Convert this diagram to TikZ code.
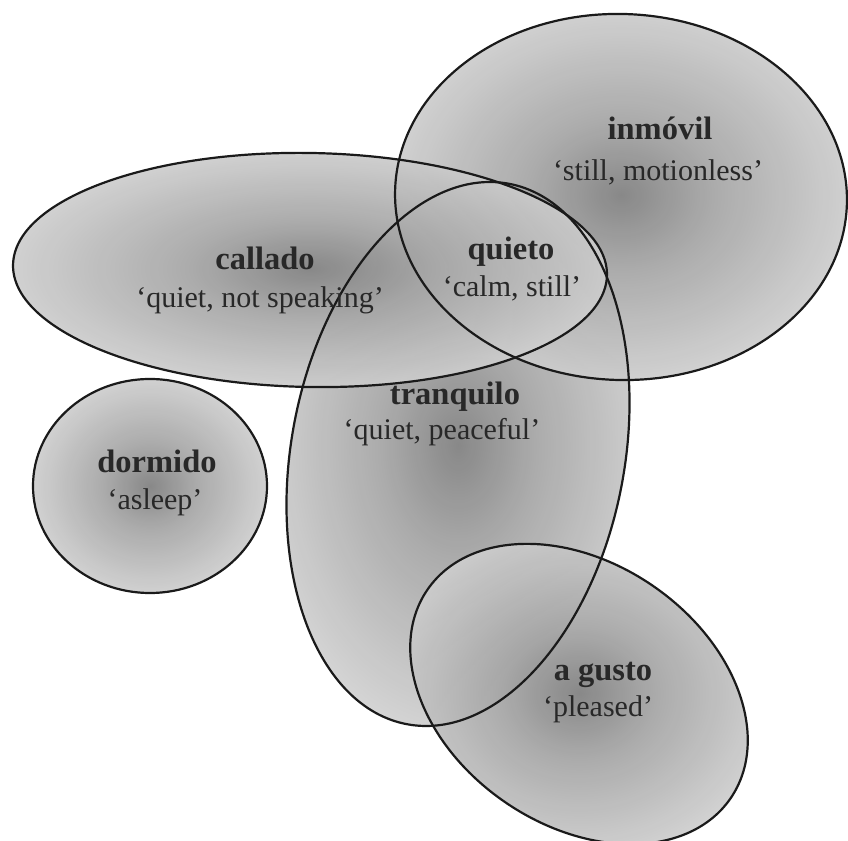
\documentclass[tikz,border=0pt]{standalone}
\usepackage{fontspec}
\setmainfont{Liberation Serif}
\definecolor{blobc}{HTML}{7E7E7E}
\definecolor{blobm}{HTML}{A4A4A4}
\definecolor{blobo}{HTML}{D5D5D5}
\definecolor{inkline}{HTML}{1A1A1A}
\definecolor{inktext}{HTML}{282828}
\pgfdeclareradialshading{blob}{\pgfpoint{0bp}{0bp}}{%
  color(0bp)=(blobc); color(10bp)=(blobm); color(28bp)=(blobo); color(50bp)=(blobo)}
\tikzset{
  field/.style={shading=blob, fill opacity=0.92},
  rim/.style={draw=inkline, line width=2.2pt},
  head/.style={anchor=base, inner sep=0pt, text=inktext,
    font=\fontsize{32.5}{38}\selectfont\bfseries},
  gloss/.style={anchor=base, inner sep=0pt, text=inktext,
    font=\fontsize{30}{36}\selectfont},
}
\begin{document}
\begin{tikzpicture}[x=1pt,y=1pt]
\useasboundingbox (0,0) rectangle (848,840);
\clip (0,0) rectangle (848,840);
% shaded word fields
\begin{scope}[shift={(458,386)},rotate=-10.7]
  \shade[field] (0,0) ellipse [x radius=166.6, y radius=275];
\end{scope}
\begin{scope}[shift={(621,643)},rotate=-2]
  \shade[field] (0,0) ellipse [x radius=226, y radius=183];
\end{scope}
\begin{scope}[shift={(310,570)},rotate=-1]
  \shade[field] (0,0) ellipse [x radius=297, y radius=117];
\end{scope}
\begin{scope}[shift={(579,146)},rotate=-34.6]
  \shade[field] (0,0) ellipse [x radius=184, y radius=131];
\end{scope}
\shade[field] (150,354) ellipse [x radius=117, y radius=107];
% outlines on top
\begin{scope}[shift={(458,386)},rotate=-10.7]
  \draw[rim] (0,0) ellipse [x radius=166.6, y radius=275];
\end{scope}
\begin{scope}[shift={(621,643)},rotate=-2]
  \draw[rim] (0,0) ellipse [x radius=226, y radius=183];
\end{scope}
\begin{scope}[shift={(310,570)},rotate=-1]
  \draw[rim] (0,0) ellipse [x radius=297, y radius=117];
\end{scope}
\begin{scope}[shift={(579,146)},rotate=-34.6]
  \draw[rim] (0,0) ellipse [x radius=184, y radius=131];
\end{scope}
\draw[rim] (150,354) ellipse [x radius=117, y radius=107];
% labels
\node[head]  (callado)    at (265,570) {callado};
\node[gloss] (calladoG)   at (260,532) {‘quiet, not speaking’};
\node[head]  (inmovil)    at (660,700) {inmóvil};
\node[gloss] (inmovilG)   at (658,659) {‘still, motionless’};
\node[head]  (quieto)     at (511,580) {quieto};
\node[gloss] (quietoG)    at (512,543) {‘calm, still’};
\node[head]  (tranquilo)  at (455,435) {tranquilo};
\node[gloss] (tranquiloG) at (442,400) {‘quiet, peaceful’};
\node[head]  (dormido)    at (157,367) {dormido};
\node[gloss] (dormidoG)   at (155,330) {‘asleep’};
\node[head]  (agusto)     at (603,159) {a gusto};
\node[gloss] (agustoG)    at (598,123) {‘pleased’};
\end{tikzpicture}
\end{document}
